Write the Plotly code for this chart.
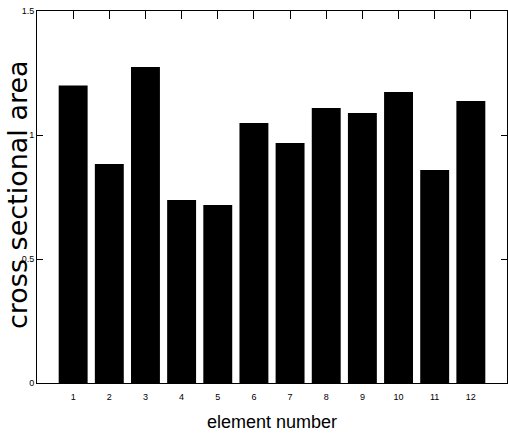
import plotly.graph_objects as go

elements = [1, 2, 3, 4, 5, 6, 7, 8, 9, 10, 11, 12]
areas = [1.20, 0.883, 1.274, 0.738, 0.718, 1.048, 0.968, 1.109, 1.089, 1.173, 0.859, 1.137]
ytick_vals = [0, 0.5, 1, 1.5]
ytick_text = ["0", "0.5", "1", "1.5"]
x_title = "element number"
y_title = "cross sectional area"

fig = go.Figure()
fig.add_trace(go.Bar(x=elements, y=areas, width=0.8, marker=dict(color="black", line=dict(width=0))))

fig.update_layout(
    width=508, height=436,
    margin=dict(l=37, r=1, t=11, b=53),
    paper_bgcolor="white", plot_bgcolor="white",
    showlegend=False,
    font=dict(family="Liberation Sans", color="black"),
    annotations=[
        dict(text=x_title, xref="paper", yref="paper", x=0.5, y=0, xanchor="center", yanchor="top",
             yshift=-27, showarrow=False, font=dict(size=18, family="Liberation Sans")),
        dict(text=y_title, xref="paper", yref="paper", x=0, y=0.5, xanchor="center", yanchor="middle",
             xshift=-20, yshift=2, textangle=-90, showarrow=False, font=dict(size=27, family="DejaVu Sans")),
    ],
)
fig.update_xaxes(
    range=[0, 13], tickvals=elements, ticktext=[str(e) for e in elements],
    ticks="inside", ticklen=8, tickcolor="black", mirror="ticks",
    showline=True, linecolor="black", linewidth=1, showgrid=False,
    tickfont=dict(size=9), zeroline=False, automargin=False,
    ticklabelstandoff=5,
)
fig.update_yaxes(
    range=[0, 1.5], tickvals=ytick_vals, ticktext=ytick_text,
    ticks="inside", ticklen=6, tickcolor="black", mirror="ticks",
    showline=True, linecolor="black", linewidth=1, showgrid=False,
    tickfont=dict(size=9), zeroline=False, automargin=False,
    ticklabeloverflow="allow",
)
fig.write_html("out.html", config={"displayModeBar": False},
               post_script="document.body.style.margin='0';")
